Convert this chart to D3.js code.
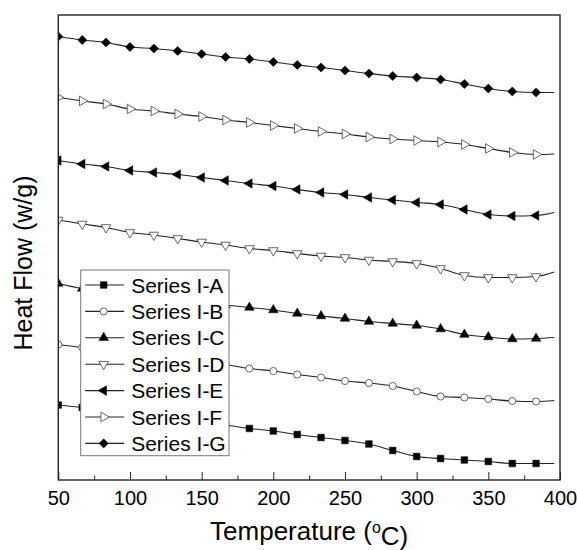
<!DOCTYPE html>
<html>
<head>
<meta charset="utf-8">
<script src="https://cdn.jsdelivr.net/npm/d3@7"></script>
<style>
  body { margin: 0; background: #fff; }
  text { font-family: "Liberation Sans", Arial, sans-serif; fill: #000; }
</style>
</head>
<body>
<svg id="chart" width="577" height="550"></svg>
<script>
// temperatures (degC) - one point per marker, last one is the line end (no marker)
const temps = [50, 66.7, 83.3, 100, 116.7, 133.3, 150, 166.7, 183.3, 200, 216.7,
  233.3, 250, 266.7, 283.3, 300, 316.7, 333.3, 350, 366.7, 383.3, 396];

// heat flow, arbitrary units (curves are offset, no y ticks in the original)
const seriesA = [15.0, 14.5, 13.9, 13.4, 12.8, 12.2, 11.6, 11.0, 10.3, 9.8, 9.1,
  8.5, 7.9, 7.2, 5.9, 4.7, 4.3, 4.0, 3.7, 3.3, 3.3, 3.3];
const seriesB = [27.1, 26.5, 26.0, 25.5, 25.0, 24.4, 23.8, 23.1, 22.3, 21.8, 21.1,
  20.5, 19.8, 19.4, 18.8, 17.7, 16.7, 16.5, 16.2, 15.8, 15.7, 15.9];
const seriesC = [39.3, 38.3, 37.8, 37.2, 36.6, 36.0, 35.5, 35.0, 34.5, 34.0, 33.3,
  32.8, 32.3, 31.7, 31.3, 30.9, 30.2, 29.1, 28.6, 28.2, 28.3, 28.5];
const seriesD = [52.0, 51.2, 50.5, 49.5, 49.0, 48.3, 47.6, 47.0, 46.3, 45.9, 45.3,
  44.8, 44.5, 44.0, 43.7, 43.3, 42.3, 40.9, 40.5, 40.5, 40.7, 41.6];
const seriesE = [63.9, 63.2, 62.7, 61.9, 61.5, 61.1, 60.5, 59.9, 59.3, 58.8, 58.1,
  57.5, 57.1, 56.5, 56.0, 55.5, 55.1, 54.1, 53.1, 52.8, 52.9, 53.5];
const seriesF = [76.5, 75.8, 75.2, 74.2, 73.8, 73.2, 72.7, 72.0, 71.5, 70.9, 70.3,
  69.7, 69.2, 68.6, 68.2, 67.9, 67.6, 67.1, 66.3, 65.5, 65.1, 65.2];
const seriesG = [88.7, 88.0, 87.5, 86.6, 86.3, 85.8, 85.2, 84.6, 84.2, 83.6, 83.0,
  82.5, 81.9, 81.3, 80.8, 80.5, 80.1, 79.2, 78.3, 77.7, 77.5, 77.5];

const seriesNames = ["Series I-A", "Series I-B", "Series I-C", "Series I-D",
  "Series I-E", "Series I-F", "Series I-G"];
const xTicks = [50, 100, 150, 200, 250, 300, 350, 400];
const xMinorTicks = [75, 125, 175, 225, 275, 325, 375];

// marker style per series: symbol, rotation, filled?
const markers = [
  { type: d3.symbolSquare, size: 44, rot: 0, filled: true },
  { type: d3.symbolCircle, size: 40, rot: 0, filled: false },
  { type: d3.symbolTriangle, size: 40, rot: 0, filled: true },
  { type: d3.symbolTriangle, size: 40, rot: 180, filled: false },
  { type: d3.symbolTriangle, size: 40, rot: -90, filled: true },
  { type: d3.symbolTriangle, size: 40, rot: 90, filled: false },
  { type: d3.symbolSquare, size: 42, rot: 45, filled: true }
];

const allSeries = [seriesA, seriesB, seriesC, seriesD, seriesE, seriesF, seriesG];

const margin = { top: 15, right: 17, bottom: 70, left: 58.3 };
const width = 577, height = 550;

const svg = d3.select("#chart");

const x = d3.scaleLinear().domain([50, 400]).range([margin.left, width - margin.right]);
const y = d3.scaleLinear().domain([0, 93]).range([height - margin.bottom, margin.top]);

svg.append("clipPath").attr("id", "plot-clip")
  .append("rect")
  .attr("x", margin.left).attr("y", margin.top)
  .attr("width", x(400) - x(50)).attr("height", y(0) - y(93));

const line = d3.line()
  .x(d => x(d.t))
  .y(d => y(d.v))
  .curve(d3.curveMonotoneX);

const plot = svg.append("g").attr("clip-path", "url(#plot-clip)");

allSeries.forEach((vals, i) => {
  const pts = vals.map((v, j) => ({ t: temps[j], v: v }));
  plot.append("path")
    .datum(pts)
    .attr("fill", "none")
    .attr("stroke", "#222")
    .attr("stroke-width", 1.1)
    .attr("d", line);

  const m = markers[i];
  const sym = d3.symbol().type(m.type).size(m.size);
  plot.selectAll(".mk" + i)
    .data(pts.slice(0, pts.length - 1))
    .enter()
    .append("path")
    .attr("class", "mk" + i)
    .attr("d", sym)
    .attr("transform", d => `translate(${x(d.t)},${y(d.v)}) rotate(${m.rot})`)
    .attr("fill", m.filled ? "#000" : "#fff")
    .attr("stroke", m.filled ? "#000" : "#555")
    .attr("stroke-width", m.filled ? 0.5 : 0.9);
});

// bottom axis, ticks pointing inward
const axisY = height - margin.bottom;
svg.append("g")
  .attr("transform", `translate(0,${axisY})`)
  .call(d3.axisBottom(x).tickValues(xMinorTicks).tickSize(-4.5).tickFormat(""))
  .call(g => g.select(".domain").remove())
  .call(g => g.selectAll("line").attr("stroke", "#222"));

const xAxis = svg.append("g")
  .attr("transform", `translate(0,${axisY})`)
  .call(d3.axisBottom(x).tickValues(xTicks).tickSize(-8).tickPadding(11));
xAxis.select(".domain").remove();
xAxis.selectAll("line").attr("stroke", "#222");
xAxis.selectAll("text")
  .style("font-family", '"Liberation Sans", Arial, sans-serif')
  .style("font-size", "20px")
  .attr("fill", "#000");

// frame
svg.append("rect")
  .attr("x", margin.left).attr("y", margin.top)
  .attr("width", x(400) - x(50)).attr("height", y(0) - y(93))
  .attr("fill", "none")
  .attr("stroke", "#222")
  .attr("stroke-width", 1.4);

// legend
const legX = 80.7, legY = 270, rowH = 26.4;
const legend = svg.append("g");
legend.append("rect")
  .attr("x", legX).attr("y", legY)
  .attr("width", 148.3).attr("height", 185.7)
  .attr("fill", "#fff")
  .attr("stroke", "#777")
  .attr("stroke-width", 1);

seriesNames.forEach((name, i) => {
  const cy = legY + 15 + i * rowH;
  const m = markers[i];
  legend.append("line")
    .attr("x1", legX + 4.5).attr("x2", legX + 43.5)
    .attr("y1", cy).attr("y2", cy)
    .attr("stroke", "#222").attr("stroke-width", 1.1);
  legend.append("path")
    .attr("d", d3.symbol().type(m.type).size(m.size))
    .attr("transform", `translate(${legX + 23},${cy}) rotate(${m.rot})`)
    .attr("fill", m.filled ? "#000" : "#fff")
    .attr("stroke", m.filled ? "#000" : "#555")
    .attr("stroke-width", m.filled ? 0.5 : 0.9);
  legend.append("text")
    .attr("x", legX + 50.5)
    .attr("y", cy)
    .attr("dy", "0.36em")
    .style("font-size", "21px")
    .text(name);
});

// axis titles
const xTitle = svg.append("text")
  .attr("x", (x(50) + x(400)) / 2)
  .attr("y", 540)
  .attr("text-anchor", "middle")
  .style("font-size", "26px");
xTitle.append("tspan").text("Temperature (");
xTitle.append("tspan").attr("dy", "-0.45em").style("font-size", "16px").text("o");
xTitle.append("tspan").attr("dy", "0.45em").text("C)");

svg.append("text")
  .attr("transform", "translate(32,263) rotate(-90)")
  .attr("text-anchor", "middle")
  .style("font-size", "25px")
  .text("Heat Flow (w/g)");
</script>
</body>
</html>
